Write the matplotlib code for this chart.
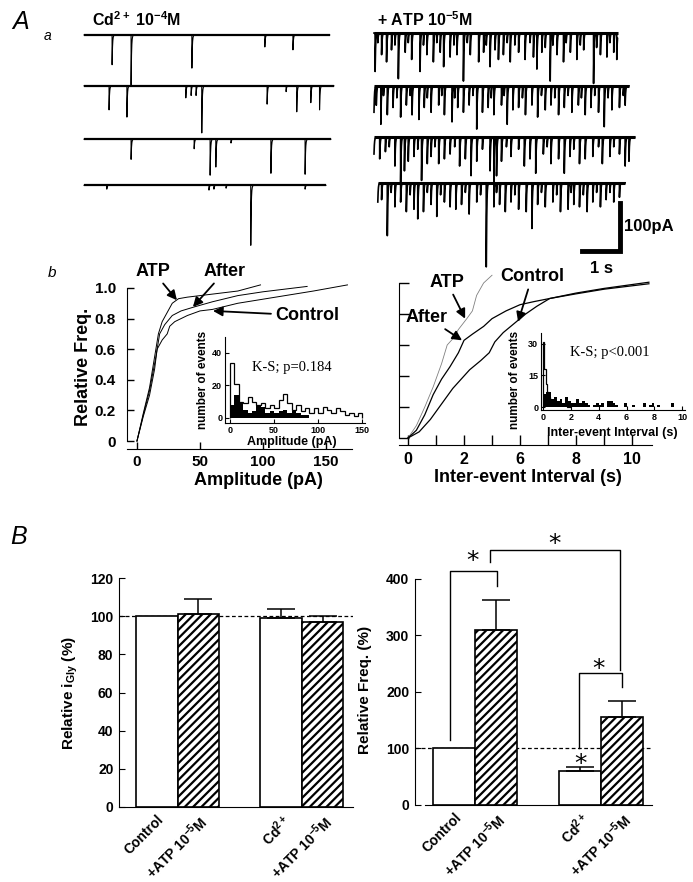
import numpy as np
import matplotlib
matplotlib.use('Agg')
import matplotlib.pyplot as plt

plt.rcParams['font.family'] = 'Liberation Sans'
plt.rcParams['font.weight'] = 'bold'
plt.rcParams['mathtext.fontset'] = 'custom'
plt.rcParams['mathtext.rm'] = 'Liberation Sans:bold'
plt.rcParams['mathtext.default'] = 'rm'
plt.rcParams['hatch.linewidth'] = 1.6

# ---- A a : raw traces, events as (time s, amplitude pA) ----
cd_rows = [
    [(0.74, 62), (1.24, 104), (2.84, 69), (4.76, 25), (5.5, 31)],
    [(0.66, 50), (1.13, 65), (2.68, 25), (2.82, 20), (2.95, 20), (3.1, 98),
     (4.82, 38), (5.32, 12), (5.6, 54), (5.97, 35), (6.2, 50)],
    [(1.24, 42), (2.9, 20), (3.32, 75), (3.47, 58), (3.87, 8), (4.92, 71), (5.82, 73)],
    [(0.6, 8), (3.29, 10), (3.42, 8), (3.74, 6), (4.39, 125), (5.82, 8)],
]
cd_durations = [6.47, 6.58, 6.5, 6.37]

atp_rows = [
    [(0.03, 80), (0.1, 20), (0.2, 45), (0.33, 60), (0.46, 35), (0.55, 25), (0.64, 95), (0.82, 40),
     (0.9, 20), (0.99, 55), (1.21, 80), (1.3, 25), (1.39, 45), (1.56, 60), (1.65, 20), (1.74, 40),
     (1.83, 70), (2.0, 50), (2.1, 25), (2.18, 45), (2.35, 100), (2.45, 20), (2.53, 45), (2.75, 60),
     (2.88, 40), (2.95, 25), (3.05, 70), (3.18, 35), (3.27, 55), (3.4, 45), (3.5, 20), (3.58, 60),
     (3.7, 25), (3.8, 40), (3.97, 55), (4.1, 20), (4.19, 50), (4.28, 75), (4.41, 40), (4.5, 30),
     (4.63, 100), (4.7, 25), (4.81, 45), (4.98, 60), (5.05, 20), (5.16, 40), (5.33, 55), (5.42, 25),
     (5.51, 35), (5.77, 105), (5.85, 30), (5.95, 45), (6.12, 50), (6.2, 20), (6.3, 40), (6.38, 55)],
    [(0.0, 55), (0.06, 40), (0.18, 80), (0.25, 20), (0.35, 60), (0.5, 45), (0.6, 25), (0.7, 65),
     (0.85, 40), (0.95, 20), (1.0, 60), (1.18, 70), (1.32, 45), (1.4, 25), (1.5, 55), (1.7, 40),
     (1.78, 20), (1.85, 60), (2.05, 75), (2.12, 25), (2.2, 45), (2.35, 55), (2.5, 40), (2.6, 20),
     (2.7, 90), (2.85, 55), (3.0, 45), (3.08, 25), (3.15, 60), (3.35, 40), (3.42, 20), (3.5, 80),
     (3.65, 50), (3.8, 45), (3.9, 25), (3.98, 60), (4.15, 40), (4.3, 65), (4.4, 20), (4.5, 50),
     (4.65, 40), (4.75, 25), (4.85, 60), (5.0, 45), (5.1, 20), (5.2, 55), (5.37, 40), (5.45, 25),
     (5.55, 60), (5.7, 45), (5.8, 20), (5.9, 55), (6.05, 85), (6.15, 25), (6.25, 50), (6.45, 45),
     (6.55, 20), (6.6, 40)],
    [(0.0, 35), (0.15, 45), (0.3, 30), (0.4, 20), (0.55, 60), (0.7, 95), (0.8, 70), (0.9, 50),
     (1.05, 40), (1.15, 25), (1.25, 90), (1.4, 55), (1.5, 40), (1.6, 20), (1.7, 55), (1.85, 45),
     (2.0, 35), (2.12, 20), (2.25, 60), (2.4, 45), (2.55, 80), (2.7, 50), (2.85, 25), (3.05, 70),
     (3.15, 105), (3.22, 80), (3.35, 50), (3.48, 20), (3.6, 40), (3.8, 25), (3.95, 60), (4.1, 45),
     (4.25, 75), (4.45, 35), (4.55, 20), (4.65, 55), (4.85, 45), (5.0, 75), (5.15, 40), (5.25, 25),
     (5.4, 55), (5.55, 45), (5.75, 40), (5.9, 20), (6.0, 55), (6.2, 40), (6.3, 20), (6.45, 35),
     (6.6, 60), (6.7, 50)],
    [(0.0, 40), (0.1, 35), (0.25, 110), (0.35, 20), (0.45, 50), (0.6, 40), (0.75, 60), (0.85, 25),
     (0.95, 55), (1.05, 75), (1.2, 60), (1.3, 20), (1.4, 45), (1.55, 70), (1.65, 25), (1.75, 40),
     (1.9, 50), (2.05, 55), (2.2, 45), (2.3, 20), (2.4, 65), (2.6, 40), (2.7, 25), (2.85, 175),
     (3.05, 50), (3.12, 20), (3.2, 45), (3.35, 60), (3.5, 40), (3.6, 25), (3.7, 55), (3.9, 60),
     (4.05, 95), (4.2, 45), (4.3, 20), (4.4, 50), (4.6, 40), (4.7, 25), (4.8, 60), (5.0, 55),
     (5.08, 20), (5.15, 45), (5.3, 50), (5.4, 25), (5.5, 60), (5.65, 40), (5.75, 20), (5.85, 50),
     (6.0, 35), (6.1, 20), (6.2, 40), (6.35, 30)],
]
atp_durations = [6.4, 6.7, 6.85, 6.5]

# ---- A b : cumulative distributions ----
amp_atp = [(0, 0), (5, 0.18), (10, 0.35), (14, 0.55), (17, 0.7), (20, 0.78), (24, 0.84),
           (28, 0.9), (33, 0.93), (40, 0.94), (60, 0.96), (80, 0.98), (98, 1.02)]
amp_after = [(0, 0), (5, 0.17), (10, 0.33), (15, 0.55), (18, 0.7), (22, 0.76), (28, 0.82),
             (35, 0.85), (45, 0.875), (60, 0.91), (80, 0.95), (100, 0.975), (135, 1.01)]
amp_control = [(0, 0), (5, 0.16), (10, 0.3), (14, 0.47), (16, 0.6), (20, 0.66), (24, 0.7),
               (26, 0.75), (30, 0.78), (40, 0.82), (50, 0.85), (60, 0.86), (80, 0.9),
               (110, 0.94), (140, 0.98), (167, 1.02)]

iei_atp = [(0, 0), (0.3, 0.08), (0.6, 0.2), (0.9, 0.33), (1.2, 0.48), (1.4, 0.6), (1.6, 0.64),
           (1.8, 0.7), (2.1, 0.77), (2.3, 0.82), (2.45, 0.92), (2.7, 1.0), (3.0, 1.05)]
iei_after = [(0, 0), (0.3, 0.05), (0.6, 0.15), (0.9, 0.28), (1.2, 0.38), (1.5, 0.46), (1.8, 0.55),
             (2.0, 0.63), (2.3, 0.67), (2.7, 0.72), (3.0, 0.77), (3.5, 0.82), (4.0, 0.86),
             (4.5, 0.88), (5.06, 0.9), (6.0, 0.935), (7.0, 0.965), (8.6, 1.005)]
iei_control = [(0, 0), (0.4, 0.04), (0.8, 0.12), (1.2, 0.22), (1.6, 0.32), (1.9, 0.38),
               (2.2, 0.44), (2.6, 0.5), (2.9, 0.55), (3.1, 0.62), (3.4, 0.68), (3.8, 0.74),
               (4.2, 0.8), (4.6, 0.85), (5.06, 0.9), (6.0, 0.93), (7.0, 0.96), (8.6, 0.995)]
iei_tick_labels = ['0', '', '2', '', '6', '', '8', '', '10']

# inset histograms
amp_bin = 5
amp_open = [34, 21, 10, 9, 13, 10, 8, 9, 6, 8, 6, 11, 15, 9, 5, 8, 4, 6, 3, 6, 3, 7, 5, 3, 6, 4,
            2, 3, 1, 3]
amp_black = [8, 14, 10, 5, 3, 4, 8, 7, 3, 4, 3, 4, 5, 3, 4, 3, 2, 2]
iei_open_bin = 0.1
iei_open = [31, 18, 11, 7, 5, 4, 3, 3, 2, 2, 2, 1, 2, 1, 1, 1, 1, 0, 1, 0]
iei_black_bin = 0.2
iei_black = [6, 7, 7, 4, 5, 3, 4, 2, 5, 3, 2, 2, 4, 2, 3, 2, 1, 0, 1, 2, 1, 2, 0, 3, 3, 2, 1,
             0, 0, 2, 0, 0, 1, 0, 0, 0, 2, 0, 1, 2, 0, 1, 0, 0, 0, 0, 2, 0, 0, 0]

# ---- B : bar charts ----
groups = ['Control', '+ATP 10$^{-5}$M', 'Cd$^{2+}$', '+ATP 10$^{-5}$M']
igly_mean = [100, 101, 99, 97]
igly_err = [0, 8, 5, 3]
freq_mean = [100, 310, 60, 155]
freq_err = [0, 53, 8, 29]

W, H = 693, 882
fig = plt.figure(figsize=(W / 100, H / 100), dpi=100)


def box(l, t, r, b):
    return [l / W, 1 - b / H, (r - l) / W, (b - t) / H]


def fxy(x, y):
    return x / W, 1 - y / H


def trace(ax, events, dur, base, start=0.0, lw=1.0, base_lw=1.6):
    t = np.arange(0, dur, 0.001)
    y = np.zeros_like(t)
    for t0, a in events:
        m = t >= t0
        y[m] -= a * np.exp(-(t[m] - t0) / 0.012)
    ax.plot([start, start + dur], [base, base], color='k', lw=base_lw, solid_capstyle='butt')
    ax.plot(t + start, y + base, color='k', lw=lw)


# traces
ax_cd = fig.add_axes(box(80, 10, 345, 265))
ax_cd.set_xlim(-0.105, 6.87)
ax_cd.set_ylim(-531, 0)
ax_cd.axis('off')
for ev, dur, base in zip(cd_rows, cd_durations, [-52, -158, -269, -365]):
    trace(ax_cd, ev, dur, base, lw=0.8)

ax_atp = fig.add_axes(box(370, 10, 640, 275))
ax_atp.set_xlim(-0.105, 6.99)
ax_atp.set_ylim(-552, 0)
ax_atp.axis('off')
for ev, dur, base, st in zip(atp_rows, atp_durations, [-48, -158, -265, -360], [0, 0, 0, 0.1]):
    trace(ax_atp, ev, dur, base, start=st, lw=1.2, base_lw=2.2)
# scale bar 100 pA / 1 s
ax_atp.plot([5.47, 6.47, 6.47], [-502, -502, -402], color='k', lw=3.5, solid_joinstyle='miter')
ax_atp.text(6.58, -452, '100pA', fontsize=12, va='center', ha='left')
ax_atp.text(5.97, -522, '1 s', fontsize=12, va='top', ha='center')

fig.text(*fxy(12, 22), 'A', fontsize=18, style='italic', weight='normal', va='center')
fig.text(*fxy(44, 36), 'a', fontsize=10, style='italic', weight='normal', va='center')
fig.text(*fxy(92, 20), 'Cd$^{2+}$ 10$^{-4}$M', fontsize=11.5, va='center')
fig.text(*fxy(377, 20), '+ ATP 10$^{-5}$M', fontsize=11.5, va='center')
fig.text(*fxy(48, 273), 'b', fontsize=11, style='italic', weight='normal', va='center')
fig.text(*fxy(10, 537), 'B', fontsize=18, style='italic', weight='normal', va='center')

arrow = dict(arrowstyle='-|>', color='k', lw=1.3, mutation_scale=14, shrinkA=1, shrinkB=0)

# amplitude CDF
ax1 = fig.add_axes(box(127, 280, 352, 449))
for pts in [amp_atp, amp_after, amp_control]:
    xs, ys = zip(*pts)
    ax1.plot(xs, ys, color='k', lw=0.7)
ax1.set_xlim(-7.9, 170.6)
ax1.set_ylim(-0.052, 1.052)
ax1.spines[['top', 'right']].set_visible(False)
ax1.spines['left'].set_bounds(0, 1)
ax1.set_yticks([0, 0.2, 0.4, 0.6, 0.8, 1.0], ['0', '0.2', '0.4', '0.6', '0.8', '1.0'])
ax1.set_xticks([0, 50, 100, 150])
ax1.tick_params(direction='in', length=5, width=1, labelsize=11)
ax1.tick_params(axis='y', pad=8)
ax1.tick_params(axis='x', pad=4)
ax1.annotate('ATP', xy=(31.7, 0.92), xytext=(12.7, 1.11), fontsize=13, ha='center',
             va='center', arrowprops=arrow, annotation_clip=False)
ax1.annotate('After', xy=(44.4, 0.876), xytext=(69.8, 1.11), fontsize=13, ha='center',
             va='center', arrowprops=arrow, annotation_clip=False)
ax1.annotate('Control', xy=(60.3, 0.85), xytext=(135, 0.82), fontsize=13, ha='center',
             va='center', arrowprops=arrow, annotation_clip=False)
fig.text(*fxy(83, 367), 'Relative Freq.', fontsize=13, rotation=90, ha='center', va='center')
fig.text(*fxy(258, 480), 'Amplitude (pA)', fontsize=13, ha='center', va='center')

# amplitude inset
ins1 = fig.add_axes(box(225, 337, 365, 423))
ins1.patch.set_alpha(0)
ins1.stairs(amp_open, np.arange(len(amp_open) + 1) * amp_bin, fill=True, facecolor='white',
            edgecolor='k', lw=0.9)
ins1.stairs(amp_black, np.arange(len(amp_black) + 1) * amp_bin, fill=True, color='k')
ins1.set_xlim(-5.7, 153)
ins1.set_ylim(-3.1, 49.8)
ins1.spines[['top', 'right']].set_visible(False)
ins1.set_yticks([0, 20, 40])
ins1.set_xticks([0, 50, 100, 150])
ins1.tick_params(direction='in', length=3, labelsize=6.5, pad=2)
fig.text(*fxy(203, 380), 'number of events', fontsize=8.5, rotation=90, ha='center', va='center')
fig.text(*fxy(292, 442), 'Amplitude (pA)', fontsize=9, ha='center', va='center')
fig.text(*fxy(252, 368), 'K-S; p=0.184', fontsize=10.5, family='Liberation Serif',
         weight='normal', va='center')

# inter-event interval CDF
ax2 = fig.add_axes(box(399, 274, 652, 445))
xs, ys = zip(*iei_atp)
ax2.plot(xs, ys, color='0.5', lw=0.6)
for pts in [iei_after, iei_control]:
    xs, ys = zip(*pts)
    ax2.plot(xs, ys, color='k', lw=0.9)
ax2.set_xlim(-0.32, 8.71)
ax2.set_ylim(-0.045, 1.058)
ax2.spines[['top', 'right']].set_visible(False)
ax2.spines['left'].set_bounds(0, 1)
ax2.set_yticks([0, 0.2, 0.4, 0.6, 0.8, 1.0], [])
ax2.set_xticks(range(9), iei_tick_labels)
ax2.tick_params(direction='in', length=7, width=1, labelsize=11.5)
ax2.tick_params(axis='x', pad=5)
ax2.annotate('ATP', xy=(2.04, 0.77), xytext=(1.39, 1.006), fontsize=13, ha='center',
             va='center', arrowprops=arrow, annotation_clip=False)
ax2.annotate('After', xy=(1.93, 0.63), xytext=(0.68, 0.78), fontsize=13, ha='center',
             va='center', arrowprops=arrow, annotation_clip=False)
ax2.annotate('Control', xy=(3.93, 0.75), xytext=(4.43, 1.04), fontsize=13, ha='center',
             va='center', arrowprops=arrow, annotation_clip=False)
fig.text(*fxy(528, 478), 'Inter-event Interval (s)', fontsize=13, ha='center', va='center')

# interval inset
ins2 = fig.add_axes(box(541, 333, 685, 410))
ins2.patch.set_alpha(0)
ins2.stairs(iei_open, np.arange(len(iei_open) + 1) * iei_open_bin, fill=True,
            facecolor='white', edgecolor='k', lw=0.9)
ins2.stairs(iei_black, np.arange(len(iei_black) + 1) * iei_black_bin, fill=True, color='k')
ins2.set_xlim(-0.14, 10.2)
ins2.set_ylim(-1.4, 35.2)
ins2.spines[['top', 'right']].set_visible(False)
ins2.set_yticks([0, 15, 30])
ins2.set_xticks([0, 2, 4, 6, 8, 10])
ins2.tick_params(direction='in', length=3, labelsize=6.5, pad=2)
fig.text(*fxy(515, 380), 'number of events', fontsize=8.5, rotation=90, ha='center', va='center')
fig.text(*fxy(612, 433), 'Inter-event Interval (s)', fontsize=9, ha='center', va='center')
fig.text(*fxy(570, 352), 'K-S; p<0.001', fontsize=10.5, family='Liberation Serif',
         weight='normal', va='center')


# ---- B bars ----
def bar_panel(ax, means, errs):
    pos = np.array([0.5, 1.5, 3.5, 4.5])
    ax.bar(pos[[0, 2]], np.array(means)[[0, 2]], width=1, color='white', edgecolor='k', lw=1.2)
    ax.bar(pos[[1, 3]], np.array(means)[[1, 3]], width=1, color='white', edgecolor='k', lw=1.2,
           hatch='////')
    ax.errorbar(pos[1:], means[1:], yerr=[[0] * 3, errs[1:]], fmt='none', ecolor='k',
                elinewidth=1.1, capsize=10, capthick=1.1)
    ax.spines[['top', 'right']].set_visible(False)
    ax.set_xticks(pos, groups, rotation=45, ha='right', rotation_mode='anchor', fontsize=10)
    ax.tick_params(axis='x', length=0, pad=4)
    ax.tick_params(axis='y', direction='in', length=4, labelsize=10, pad=4)
    return pos


axb1 = fig.add_axes(box(119, 575, 353, 807))
bar_panel(axb1, igly_mean, igly_err)
axb1.axhline(100, color='k', lw=0.9, ls=(0, (3, 2)), zorder=0)
axb1.set_xlim(-0.41, 5.23)
axb1.set_ylim(0, 121.6)
axb1.spines['left'].set_bounds(0, 120)
axb1.set_yticks(range(0, 121, 20))
fig.text(*fxy(70, 693), 'Relative i$_{Gly}$ (%)', fontsize=11, rotation=90, ha='center',
         va='center')

axb2 = fig.add_axes(box(415, 575, 652, 805))
bar_panel(axb2, freq_mean, freq_err)
axb2.axhline(100, color='k', lw=0.9, ls=(0, (3, 2)), zorder=0)
axb2.set_xlim(-0.43, 5.21)
axb2.set_ylim(0, 407)
axb2.spines['left'].set_bounds(0, 400)
axb2.spines['bottom'].set_bounds(-0.19, 5.21)
axb2.set_yticks(range(0, 401, 100))
fig.text(*fxy(365, 690), 'Relative Freq. (%)', fontsize=11, rotation=90, ha='center',
         va='center')

# significance brackets
for xs, ys in [([0.4, 0.4, 1.52, 1.52], [115, 414, 414, 388]),
               ([1.36, 1.36, 4.45, 4.45], [430, 451, 451, 239]),
               ([3.48, 3.48, 4.5, 4.5], [101, 234, 234, 209])]:
    axb2.plot(xs, ys, color='k', lw=1.0, clip_on=False)
for x, y in [(0.95, 432), (2.9, 461), (3.93, 240), (3.5, 72)]:
    axb2.text(x, y, '*', fontsize=18, family='DejaVu Sans', weight='normal', ha='center',
              va='center')

fig.savefig('out.png', dpi=100, facecolor='white')
